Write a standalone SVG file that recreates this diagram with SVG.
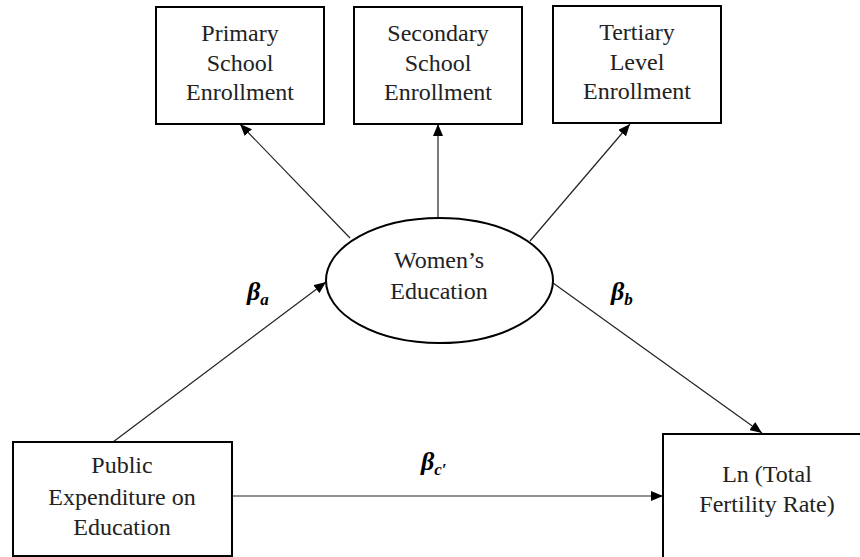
<svg xmlns="http://www.w3.org/2000/svg" width="860" height="557" viewBox="0 0 860 557">
<defs>
<marker id="ah" viewBox="0 0 12 10" refX="12" refY="5" markerWidth="12" markerHeight="10" markerUnits="userSpaceOnUse" orient="auto">
<path d="M0,0 L12,5 L0,10 z" fill="#000"/>
</marker>
<style>
.box{fill:#fff;stroke:#000;stroke-width:2}
text{font-family:"Liberation Serif",Tinos,"Times New Roman",Times,"DejaVu Serif","Noto Serif",FreeSerif,serif}
.t{font-size:24px;fill:#222;text-anchor:middle}
.lab{font-weight:bold;font-style:italic;fill:#000}
.c{stroke:#222;stroke-width:1.2;fill:none;marker-end:url(#ah)}
</style>
</defs>
<rect width="860" height="557" fill="#fff"/>
<g id="connectors">
<line class="c" x1="350" y1="238" x2="240" y2="124"/>
<line class="c" x1="438" y1="218" x2="438" y2="124"/>
<line class="c" x1="530" y1="241" x2="630" y2="124"/>
<line class="c" x1="113" y1="442" x2="326" y2="282"/>
<line class="c" x1="553" y1="283" x2="762" y2="433"/>
<line class="c" x1="232" y1="496" x2="663" y2="496"/>
</g>
<g id="primary">
<rect class="box" x="156" y="7" width="168" height="117"/>
<text class="t" x="240" y="41">Primary</text>
<text class="t" x="240" y="71">School</text>
<text class="t" x="240" y="100">Enrollment</text>
</g>
<g id="secondary">
<rect class="box" x="354" y="7" width="168" height="117"/>
<text class="t" x="438" y="41">Secondary</text>
<text class="t" x="438" y="71">School</text>
<text class="t" x="438" y="100">Enrollment</text>
</g>
<g id="tertiary">
<rect class="box" x="553" y="6" width="168" height="117"/>
<text class="t" x="637" y="40">Tertiary</text>
<text class="t" x="637" y="70">Level</text>
<text class="t" x="637" y="99">Enrollment</text>
</g>
<g id="womens-education">
<ellipse cx="439.5" cy="280.5" rx="113.5" ry="62.5" fill="#fff" stroke="#000" stroke-width="2"/>
<text class="t" x="439" y="268">Women’s</text>
<text class="t" x="439" y="299">Education</text>
</g>
<g id="public-expenditure">
<rect class="box" x="13" y="442" width="219" height="114"/>
<text class="t" x="122" y="473">Public</text>
<text class="t" x="122" y="505">Expenditure on</text>
<text class="t" x="122" y="535">Education</text>
</g>
<g id="fertility">
<rect class="box" x="663" y="434" width="220" height="140"/>
<text class="t" x="767" y="482">Ln (Total</text>
<text class="t" x="767" y="512">Fertility Rate)</text>
</g>
<g id="labels">
<text class="lab" x="247" y="300" font-size="26">β<tspan font-size="17" dy="5">a</tspan></text>
<text class="lab" x="611" y="300" font-size="26">β<tspan font-size="17" dy="5">b</tspan></text>
<text class="lab" x="421" y="470" font-size="26">β<tspan font-size="17" dy="5">c′</tspan></text>
</g>
</svg>
